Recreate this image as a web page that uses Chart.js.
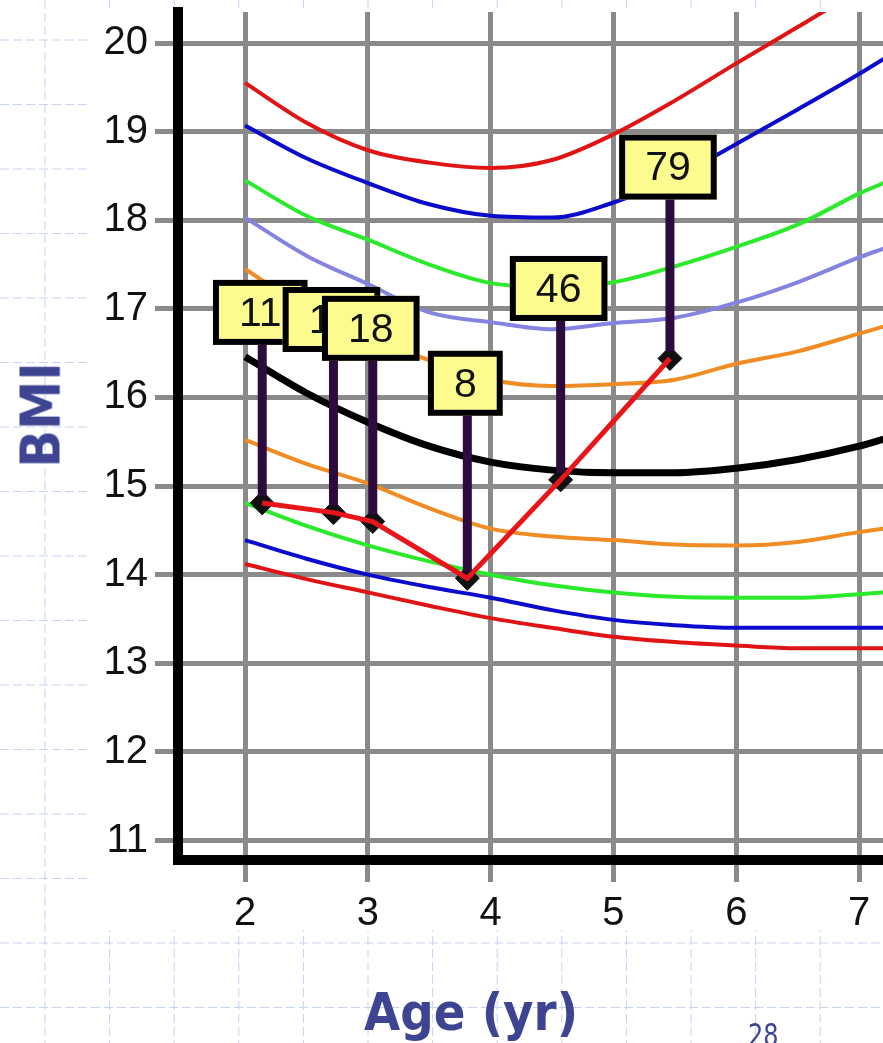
<!DOCTYPE html>
<html>
<head>
<meta charset="utf-8">
<script src="https://cdn.jsdelivr.net/npm/chart.js@4.4.0/dist/chart.umd.min.js"></script>
<style>
  html, body { margin: 0; padding: 0; background: #fff; }
  #wrap { position: relative; width: 883px; height: 1043px; overflow: hidden; }
  #bmiChart { position: absolute; left: 0; top: 0; }
  .ttl { position: absolute; color: #3d4593; font-family: "DejaVu Sans", Verdana, sans-serif; white-space: nowrap; line-height: 1; }
  #ytitle { left: 41px; top: 415px; font-size: 55px; font-weight: bold; transform: translate(-50%, -50%) rotate(-90deg) scaleX(0.9); }
  #xtitle { left: 471px; top: 986px; font-size: 52px; font-weight: bold; transform: translateX(-50%) scaleX(0.9); }
  #pageno { left: 748px; top: 1019px; font-size: 32px; transform-origin: left top; transform: scaleX(0.75); }
</style>
</head>
<body>
<div id="wrap">
  <canvas id="bmiChart" width="883" height="1043"></canvas>
  <div class="ttl" id="ytitle">BMI</div>
  <div class="ttl" id="xtitle">Age (yr)</div>
  <div class="ttl" id="pageno">28</div>
</div>
<script>
// ages where the percentile curves were read
const ages = [2, 2.5, 3, 3.5, 4, 4.5, 5, 5.5, 6, 6.5, 7, 7.2];

// percentile curves, top to bottom
const p95 = [19.55, 19.1, 18.79, 18.65, 18.59, 18.68, 18.97, 19.35, 19.77, 20.18, 20.6, 20.78];
const p90 = [19.07, 18.7, 18.42, 18.18, 18.05, 18.03, 18.2, 18.48, 18.86, 19.25, 19.65, 19.82];
const p85 = [18.45, 18.05, 17.78, 17.5, 17.29, 17.25, 17.3, 17.48, 17.7, 17.95, 18.3, 18.42];
const p75 = [18.03, 17.6, 17.28, 16.96, 16.85, 16.77, 16.84, 16.9, 17.07, 17.3, 17.58, 17.68];
const p60 = [17.45, 17.0, 16.68, 16.42, 16.2, 16.13, 16.15, 16.2, 16.38, 16.52, 16.72, 16.8];
const p50 = [16.46, 16.05, 15.72, 15.45, 15.27, 15.18, 15.15, 15.15, 15.2, 15.3, 15.45, 15.53];
const p25 = [15.52, 15.25, 15.03, 14.75, 14.52, 14.43, 14.39, 14.34, 14.33, 14.37, 14.48, 14.52];
const p15 = [14.81, 14.55, 14.33, 14.15, 14.0, 13.88, 13.8, 13.75, 13.74, 13.74, 13.78, 13.8];
const p10 = [14.39, 14.18, 14.0, 13.86, 13.74, 13.6, 13.49, 13.43, 13.4, 13.4, 13.4, 13.4];
const p5 = [14.12, 13.95, 13.8, 13.65, 13.51, 13.4, 13.3, 13.24, 13.2, 13.17, 13.17, 13.17];

// the child's measurements
const patientAge = [2.14, 2.72, 3.04, 3.81, 4.57, 5.46];
const patientBmi = [14.81, 14.7, 14.6, 13.96, 15.07, 16.44];
const pctText = ["11", "13", "18", "8", "46", "79"];
const labelBmi = [16.96, 16.88, 16.78, 16.16, 17.23, 18.6];

const xTicks = [2, 3, 4, 5, 6, 7];
const yTicks = [11, 12, 13, 14, 15, 16, 17, 18, 19, 20];

const pts = (xs, ys) => xs.map((v, i) => ({ x: v, y: ys[i] }));

function curve(values, color, width) {
  return {
    type: "line",
    data: pts(ages, values),
    borderColor: color,
    borderWidth: width,
    pointRadius: 0,
    tension: 0.4,
    cubicInterpolationMode: "monotone",
    order: 10,
  };
}

// slide background + white picture panel
const backdrop = {
  id: "backdrop",
  beforeDraw(chart) {
    const ctx = chart.ctx;
    ctx.save();
    ctx.fillStyle = "#fff";
    ctx.fillRect(0, 0, chart.width, chart.height);
    ctx.strokeStyle = "#c6d3f4";
    ctx.lineWidth = 1;
    ctx.setLineDash([9, 4]);
    for (let gx = 45; gx < chart.width; gx += 64.6) {
      ctx.beginPath(); ctx.moveTo(gx, 0); ctx.lineTo(gx, chart.height); ctx.stroke();
    }
    for (let gy = 40; gy < chart.height; gy += 64.5) {
      ctx.beginPath(); ctx.moveTo(0, gy); ctx.lineTo(chart.width, gy); ctx.stroke();
    }
    ctx.setLineDash([]);
    ctx.fillStyle = "#fff";
    ctx.fillRect(90, 8, chart.width - 90, 922);
    ctx.restore();
  },
};

// percentile stems and yellow boxes
const pctLabels = {
  id: "pctLabels",
  afterDatasetsDraw(chart) {
    const { ctx, scales: { x, y } } = chart;
    ctx.save();
    ctx.strokeStyle = "#2e0b3e";
    ctx.lineWidth = 9;
    patientAge.forEach((a, i) => {
      const px = x.getPixelForValue(a);
      ctx.beginPath();
      ctx.moveTo(px, y.getPixelForValue(labelBmi[i]));
      ctx.lineTo(px, y.getPixelForValue(patientBmi[i]) - 7);
      ctx.stroke();
    });
    ctx.font = '41px "Liberation Sans", Arial, sans-serif';
    ctx.textAlign = "center";
    ctx.textBaseline = "middle";
    patientAge.forEach((a, i) => {
      const cx = x.getPixelForValue(a) - 2;
      const cy = y.getPixelForValue(labelBmi[i]);
      const w = ctx.measureText(pctText[i]).width + 52;
      const h = 65;
      ctx.fillStyle = "#fbfb8e";
      ctx.fillRect(cx - w / 2, cy - h / 2, w, h);
      ctx.lineWidth = 6;
      ctx.strokeStyle = "#000";
      ctx.strokeRect(cx - w / 2 + 3, cy - h / 2 + 3, w - 6, h - 6);
      ctx.fillStyle = "#111";
      ctx.fillText(pctText[i], cx, cy + 2);
    });
    ctx.restore();
  },
};

const tickFont = { family: '"Liberation Sans", Arial, sans-serif', size: 40 };

new Chart(document.getElementById("bmiChart"), {
  type: "line",
  data: {
    datasets: [
      {
        data: pts(patientAge, patientBmi),
        borderColor: "#e8161a",
        borderWidth: 5,
        pointRadius: 0,
        tension: 0,
        order: 1,
      },
      {
        data: pts(patientAge, patientBmi),
        showLine: false,
        pointStyle: "rectRot",
        pointRadius: 12,
        pointBackgroundColor: "#111",
        pointBorderColor: "#111",
        order: 2,
      },
      curve(p95, "#e01414", 4),
      curve(p90, "#0b0bcc", 4),
      curve(p85, "#2bea2b", 4),
      curve(p75, "#8484e0", 4),
      curve(p60, "#f08c24", 4),
      curve(p50, "#000000", 7),
      curve(p25, "#f08c24", 4),
      curve(p15, "#2bea2b", 4),
      curve(p10, "#0b0bcc", 4),
      curve(p5, "#e01414", 4),
    ],
  },
  options: {
    responsive: false,
    devicePixelRatio: 1,
    animation: false,
    layout: { autoPadding: false, padding: { top: 12, right: 0, bottom: 0, left: 0 } },
    plugins: { legend: { display: false }, tooltip: { enabled: false } },
    scales: {
      x: {
        type: "linear",
        min: 1.454,
        max: 7.195,
        afterBuildTicks: (s) => { s.ticks = xTicks.map((v) => ({ value: v })); },
        afterFit: (s) => { s.height = 183; s.paddingLeft = 0; s.paddingRight = 0; },
        grid: { color: "#8a8a8a", lineWidth: 5, tickLength: 22, tickColor: "#8a8a8a", tickWidth: 5 },
        border: { display: true, color: "#000", width: 10 },
        ticks: { font: tickFont, color: "#111", padding: 8, maxRotation: 0 },
      },
      y: {
        min: 10.78,
        max: 20.35,
        afterBuildTicks: (s) => { s.ticks = yTicks.map((v) => ({ value: v })); },
        afterFit: (s) => { s.width = 178; s.paddingTop = 0; s.paddingBottom = 0; },
        grid: { color: "#8a8a8a", lineWidth: 5, tickLength: 23, tickColor: "#8a8a8a", tickWidth: 5 },
        border: { display: true, color: "#000", width: 10 },
        ticks: { font: tickFont, color: "#111", padding: 7 },
      },
    },
  },
  plugins: [backdrop, pctLabels],
});
</script>
</body>
</html>
